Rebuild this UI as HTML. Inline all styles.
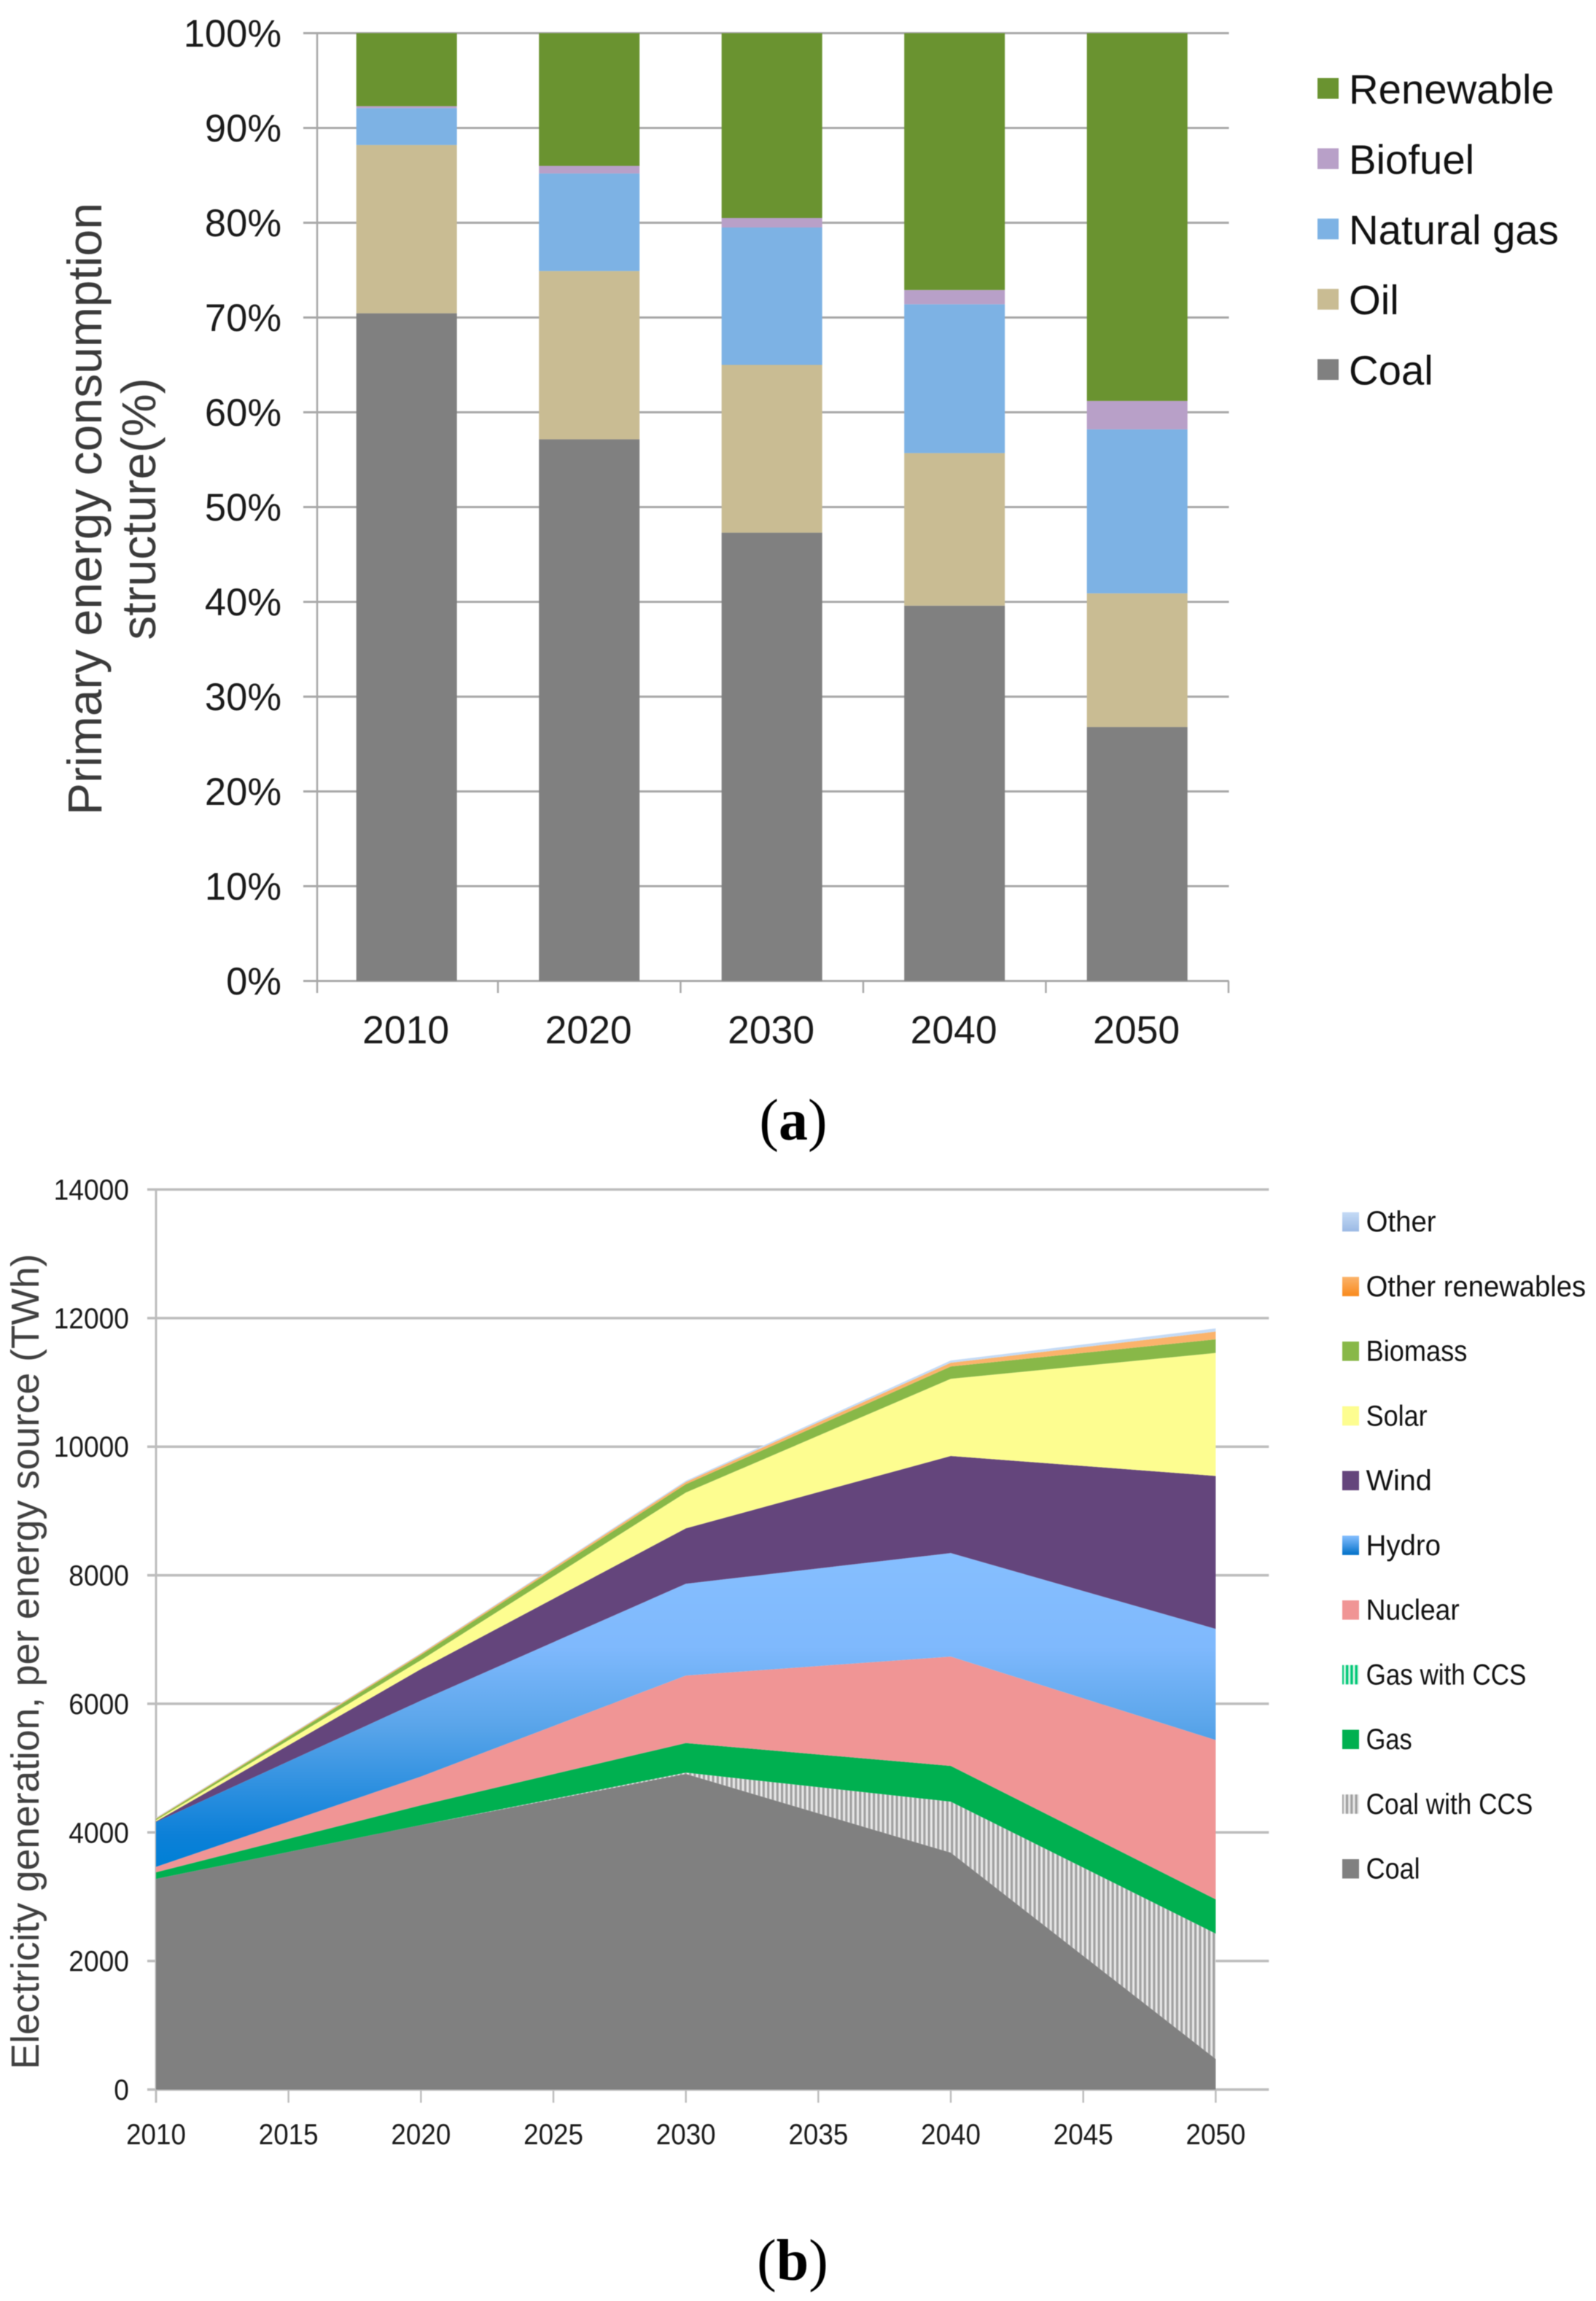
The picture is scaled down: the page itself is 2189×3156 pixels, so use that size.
<!DOCTYPE html>
<html lang="en">
<head>
<meta charset="utf-8">
<title>Primary energy consumption structure and electricity generation</title>
<style>
  html, body { margin: 0; padding: 0; background: #fff; }
  svg { display: block; filter: blur(0.6px); }
  text { font-family: "Liberation Sans", sans-serif; }
  .serif { font-family: "Liberation Serif", serif; }
</style>
</head>
<body>
<svg id="figure" xmlns="http://www.w3.org/2000/svg" width="2189" height="3156" viewBox="0 0 2189 3156">
  <defs>
    <pattern id="coal-ccs-pattern" patternUnits="userSpaceOnUse" width="6.3" height="10">
      <rect width="6.3" height="10" fill="#e8e8e8"/>
      <rect width="3.2" height="10" fill="#a0a0a0"/>
    </pattern>
    <pattern id="gas-ccs-pattern" patternUnits="userSpaceOnUse" width="6.3" height="10">
      <rect width="6.3" height="10" fill="#d8f5e6"/>
      <rect width="3.4" height="10" fill="#00c878"/>
    </pattern>
    <linearGradient id="hydro-gradient" x1="0" y1="0" x2="0" y2="1">
      <stop offset="0" stop-color="#86bfff"/>
      <stop offset="0.3" stop-color="#7fb9fd"/>
      <stop offset="0.55" stop-color="#5aa5ea"/>
      <stop offset="0.9" stop-color="#0c80d8"/>
      <stop offset="1" stop-color="#0080d6"/>
    </linearGradient>
    <linearGradient id="hydro-swatch-gradient" x1="0" y1="0" x2="0" y2="1">
      <stop offset="0" stop-color="#86bfff"/>
      <stop offset="1" stop-color="#0070c8"/>
    </linearGradient>
    <linearGradient id="other-swatch-gradient" x1="0" y1="0" x2="0" y2="1">
      <stop offset="0" stop-color="#c5dbf6"/>
      <stop offset="1" stop-color="#9bb9e4"/>
    </linearGradient>
    <linearGradient id="other-ren-swatch-gradient" x1="0" y1="0" x2="0" y2="1">
      <stop offset="0" stop-color="#fbb36b"/>
      <stop offset="1" stop-color="#f98a1c"/>
    </linearGradient>
  </defs>

  <g id="chart-a"></g>
  <g id="chart-b"></g>

  <g fill="#3a3a3a" font-size="66" text-anchor="middle">
    <text transform="translate(139,698) rotate(-90)">Primary energy consumption</text>
    <text transform="translate(213,698) rotate(-90)">structure(%)</text>
  </g>
  <text transform="translate(53,2279) rotate(-90)" fill="#404040" font-size="53.4" text-anchor="middle">Electricity generation, per energy source (TWh)</text>

  <text class="serif" x="1088" y="1563" font-size="80" text-anchor="middle" fill="#000">(<tspan font-weight="bold">a</tspan>)</text>
  <text class="serif" x="1087" y="3127" font-size="80" text-anchor="middle" fill="#000">(<tspan font-weight="bold">b</tspan>)</text>
</svg>

<script>
// ---------- Chart A data: primary energy consumption structure (%) ----------
const barYears = ['2010', '2020', '2030', '2040', '2050'];
const barCoal = [70.45, 57.15, 47.3, 39.6, 26.8];
const barOil = [17.75, 17.75, 17.7, 16.1, 14.1];
const barGas = [3.9, 10.3, 14.5, 15.7, 17.3];
const barBiofuel = [0.2, 0.8, 1.0, 1.5, 3.0];
const barRenewable = [7.7, 14.0, 19.5, 27.1, 38.8];
const percentTicks = [0, 10, 20, 30, 40, 50, 60, 70, 80, 90, 100];
const barLegendLabels = ['Renewable', 'Biofuel', 'Natural gas', 'Oil', 'Coal'];

// ---------- Chart B data: electricity generation per source (TWh) ----------
const areaYears = [2010, 2020, 2030, 2040, 2050];
const areaCoal = [3277, 4115, 4910, 3685, 476];
const areaCoalCcs = [0, 0, 20, 793, 1950];
const areaGas = [103, 307, 460, 556, 533];
const areaGasCcs = [0, 0, 0, 0, 0];
const areaNuclear = [84, 448, 1050, 1701, 2478];
const areaHydro = [696, 1180, 1428, 1610, 1729];
const areaWind = [10, 490, 862, 1510, 2379];
const areaSolar = [20, 140, 556, 1200, 1913];
const areaBiomass = [20, 80, 129, 192, 212];
const areaOtherRenewables = [10, 20, 35, 58, 120];
const areaOther = [10, 10, 20, 35, 50];
const twhTicks = [0, 2000, 4000, 6000, 8000, 10000, 12000, 14000];
const yearTicks = [2010, 2015, 2020, 2025, 2030, 2035, 2040, 2045, 2050];
const areaLegendLabels = ['Other', 'Other renewables', 'Biomass', 'Solar', 'Wind', 'Hydro', 'Nuclear', 'Gas with CCS', 'Gas', 'Coal with CCS', 'Coal'];

const SVGNS = 'http://www.w3.org/2000/svg';
function mk(parent, tag, attrs, text) {
  const node = document.createElementNS(SVGNS, tag);
  for (const key in attrs) node.setAttribute(key, attrs[key]);
  if (text !== undefined) node.textContent = text;
  parent.appendChild(node);
  return node;
}
function slug(s) { return String(s).toLowerCase().replace(/[^a-z0-9]+/g, '-'); }

// ---------- Chart A ----------
(function () {
  const root = document.getElementById('chart-a');
  const yScale = v => 1345.5 - v * 13;
  const barCenter = i => 557.7 + i * 250.5;
  const band = i => barCenter(i) - 125.25;
  const barWidth = 138;
  const gridLeft = 416, gridRight = 1685.5, axisX = 435;
  const stackSeries = [
    { key: 'coal', values: barCoal, fill: '#808080' },
    { key: 'oil', values: barOil, fill: '#c9bc93' },
    { key: 'natural-gas', values: barGas, fill: '#7db2e4' },
    { key: 'biofuel', values: barBiofuel, fill: '#b8a0c8' },
    { key: 'renewable', values: barRenewable, fill: '#6a9330' }
  ];
  const swatchFills = ['#6a9330', '#b8a0c8', '#7db2e4', '#c9bc93', '#808080'];

  percentTicks.forEach(t => {
    const line = mk(root, 'line', { x1: gridLeft, x2: gridRight, y1: yScale(t), y2: yScale(t), stroke: '#a8a8a8', 'stroke-width': 3 });
    
    
    const label = mk(root, 'text', { x: 386, y: yScale(t) + 18.5, 'text-anchor': 'end', 'font-size': 52.5, fill: '#1a1a1a' }, t + '%');
    
    
  });

  const yAxis = mk(root, 'line', { x1: axisX, x2: axisX, y1: yScale(100), y2: 1362, stroke: '#a8a8a8', 'stroke-width': 2.5 });
  
  
  for (let i = 1; i <= barYears.length; i++) {
    const tx = band(i);
    const tick = mk(root, 'line', { x1: tx, x2: tx, y1: yScale(0), y2: 1362, stroke: '#a8a8a8', 'stroke-width': 2.5 });
    
    
  }

  barYears.forEach((year, i) => {
    let cum = 0;
    stackSeries.forEach(s => {
      const v = s.values[i];
      const seg = mk(root, 'rect', { x: barCenter(i) - barWidth / 2, y: yScale(cum + v), width: barWidth, height: yScale(cum) - yScale(cum + v), fill: s.fill });
      
      
      cum += v;
    });
    const label = mk(root, 'text', { x: barCenter(i) - 1, y: 1431, 'text-anchor': 'middle', 'font-size': 53.5, fill: '#1a1a1a' }, year);
    
    
  });

  barLegendLabels.forEach((name, i) => {
    const top = 107 + i * 96.4;
    const swatch = mk(root, 'rect', { x: 1807, y: top, width: 29, height: 28.5, fill: swatchFills[i] });
    
    
    const label = mk(root, 'text', { x: 1850, y: top + 35, 'font-size': 56.3, fill: '#111' }, name);
    
    
  });
})();

// ---------- Chart B ----------
(function () {
  const root = document.getElementById('chart-b');
  const xScale = y => 214 + (y - 2010) * (1667.4 - 214) / 40;
  const yScale = v => 2866 - v * (2866 - 1631.5) / 14000;
  const layers = [
    { key: 'coal', values: areaCoal, fill: '#808080' },
    { key: 'coal-with-ccs', values: areaCoalCcs, fill: 'url(#coal-ccs-pattern)' },
    { key: 'gas-with-ccs', values: areaGasCcs, fill: 'url(#gas-ccs-pattern)' },
    { key: 'gas', values: areaGas, fill: '#00b050' },
    { key: 'nuclear', values: areaNuclear, fill: '#f09595' },
    { key: 'hydro', values: areaHydro, fill: 'url(#hydro-gradient)' },
    { key: 'wind', values: areaWind, fill: '#64457c' },
    { key: 'solar', values: areaSolar, fill: '#fdfd90' },
    { key: 'biomass', values: areaBiomass, fill: '#88b848' },
    { key: 'other-renewables', values: areaOtherRenewables, fill: '#fbb36b' },
    { key: 'other', values: areaOther, fill: '#c5dbf6' }
  ];
  const swatchFills = ['url(#other-swatch-gradient)', 'url(#other-ren-swatch-gradient)', '#88b848', '#fdfd90', '#64457c', 'url(#hydro-swatch-gradient)', '#f09595', 'url(#gas-ccs-pattern)', '#00b050', 'url(#coal-ccs-pattern)', '#808080'];
  const labelCondense = { 'Other': 0.96, 'Other renewables': 0.955, 'Biomass': 0.905, 'Solar': 0.9, 'Wind': 0.99, 'Hydro': 0.96, 'Nuclear': 0.93, 'Gas with CCS': 0.875, 'Gas': 0.86, 'Coal with CCS': 0.88, 'Coal': 0.9 };

  twhTicks.forEach(t => {
    const line = mk(root, 'line', { x1: 202, x2: 1740.3, y1: yScale(t), y2: yScale(t), stroke: '#bdbdbd', 'stroke-width': 3.5 });
    
    
    const label = mk(root, 'text', { transform: 'translate(177,' + (yScale(t) + 14) + ') scale(0.93,1)', 'text-anchor': 'end', 'font-size': 40, fill: '#1a1a1a' }, String(t));
    
    
  });

  const yAxis = mk(root, 'line', { x1: 214, x2: 214, y1: yScale(14000), y2: 2884, stroke: '#bdbdbd', 'stroke-width': 3 });
  
  

  yearTicks.forEach(y => {
    const tick = mk(root, 'line', { x1: xScale(y), x2: xScale(y), y1: yScale(0), y2: 2884, stroke: '#bdbdbd', 'stroke-width': 2.5 });
    
    
    const label = mk(root, 'text', { transform: 'translate(' + xScale(y) + ',2941) scale(0.92,1)', 'text-anchor': 'middle', 'font-size': 40, fill: '#1a1a1a' }, String(y));
    
    
  });

  let base = areaYears.map(() => 0);
  layers.forEach(layer => {
    const tops = base.map((b, i) => b + layer.values[i]);
    const upper = areaYears.map((y, i) => xScale(y) + ',' + yScale(tops[i]));
    const lower = areaYears.map((y, i) => xScale(y) + ',' + yScale(base[i])).reverse();
    const area = mk(root, 'polygon', { points: upper.concat(lower).join(' '), fill: layer.fill });
    
    
    base = tops;
  });

  areaLegendLabels.forEach((name, i) => {
    const top = 1662.6 + i * 88.74;
    const swatch = mk(root, 'rect', { x: 1841, y: top, width: 23, height: 26.5, fill: swatchFills[i] });
    
    
    const label = mk(root, 'text', { transform: 'translate(1873.6,' + (top + 26.5) + ') scale(' + labelCondense[name] + ',1)', 'font-size': 40, fill: '#111' }, name);
    
    
  });
})();
</script>
</body>
</html>
